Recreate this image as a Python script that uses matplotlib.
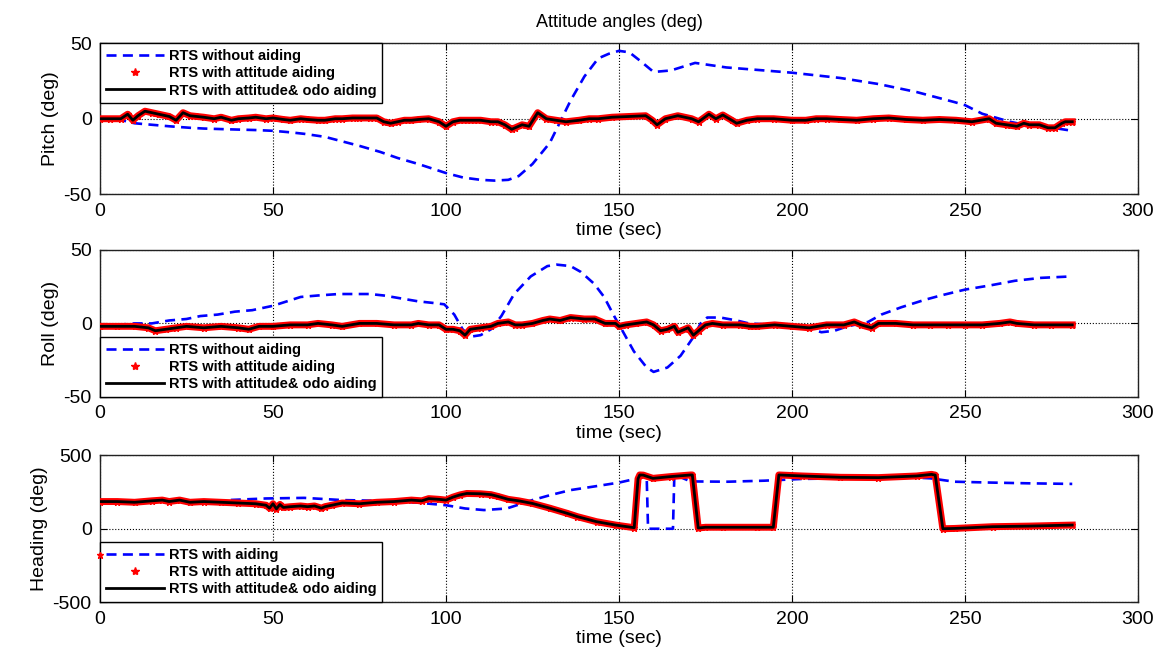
import numpy as np
import matplotlib
matplotlib.use("Agg")
import matplotlib.pyplot as plt
from matplotlib.lines import Line2D

plt.rcParams['font.family'] = ['Liberation Sans', 'DejaVu Sans']
plt.rcParams['axes.unicode_minus'] = False

# --- pitch (deg) ---------------------------------------------------------
pitch_free = [(0, 0), (5, 0), (8, -2), (10, -3), (15, -4), (20, -5), (26, -6), (30, -6.5),
              (37, -7), (45, -7.5), (50, -8), (55, -9), (59, -10), (65, -12), (70, -15),
              (75, -18), (81, -22), (86, -26), (92, -30), (96, -33), (100, -36), (105, -39),
              (110, -40.5), (114, -41), (118, -40.5), (121, -38), (125, -30), (130, -16),
              (133, -2), (136, 12), (140, 28), (144, 40), (147, 43), (150, 45), (153, 44),
              (156, 38.6), (160, 31), (165, 32), (172, 37), (181, 34), (192, 32), (200, 30.5),
              (214, 27), (225, 23), (236, 17.7), (247, 11), (250, 9), (255, 3.3), (263, -2),
              (268, -4.4), (274, -5.5), (281, -8)]
pitch_odo = [(0, 0), (3, 0), (6, 0), (8, 3), (9.5, -1), (11, 2), (13, 5), (15, 4), (17, 3),
             (20, 1.5), (22, -1), (24, 4), (26, 2), (28, 1.5), (30, 1), (33, 0), (35, 1),
             (38, -1), (40, 0), (43, 0.5), (45, 1), (48, 0), (50, 0.5), (53, -0.5), (55, -1),
             (58, 0), (60, -0.5), (63, -1), (65, -1), (68, 0), (70, 0), (73, 0.5), (75, 0.5),
             (78, 0.5), (80, 0.5), (82, -2), (84, -3), (86, -2), (88, -1), (90, -1), (92, -0.5),
             (95, 0), (98, -2), (100, -5), (102, -2), (104, -1), (106, -1), (108, -1), (110, -1),
             (113, -2), (115, -2), (117, -4), (119, -7), (120, -6), (122, -4), (124, -5),
             (126.5, 4), (129, 0), (131.8, -1), (134.7, -2), (138.5, -1), (141.4, 0), (144, 0),
             (148, 1), (153, 1.5), (157.7, 2), (159.6, -1), (161, -4), (163.4, 0), (167, 2),
             (171, 0), (173, -2), (176, 3), (178, 0), (180, 2.5), (182.6, -1), (184, -3),
             (187, -1), (190, 0), (194.7, 0), (200, -1), (204, -1), (207, 0), (210, 0),
             (214, -0.5), (218.7, -1), (223.5, 0), (228, 0.5), (233, -0.5), (237.8, -1),
             (242.6, -0.5), (247.4, -1), (252, -2), (257, 0), (259, -3), (262, -4), (265, -5),
             (267, -3), (268.6, -4), (271.5, -4), (274, -6), (276, -6), (278, -3), (279, -2),
             (281, -2)]
pitch_att = pitch_odo  # red band sits right under the black curve

# --- roll (deg) ----------------------------------------------------------
roll_free = [(0, -2), (5, -1), (10, 0), (15, 0), (20, 2), (25, 3), (29, 5), (34, 6), (39, 8),
             (44, 9), (50, 12), (54, 15), (58, 18), (63, 19), (69, 20), (75, 20), (78, 20),
             (82, 19), (87, 17), (92, 15), (96, 14), (99.5, 13), (102.4, 6), (104.8, -4),
             (107.2, -9), (110, -8), (113, -4), (116, 5), (119.7, 20), (124.5, 32), (129.3, 39),
             (132, 40), (136, 39), (139, 35), (142.8, 27), (145.7, 18), (148.6, 5), (151, -5),
             (154.3, -19), (158, -30), (160, -33), (164, -30), (167.8, -22), (171.6, -9),
             (173.6, 0), (175.5, 4), (179.3, 4), (184, 2), (187.5, 0), (195, -1), (204.6, -3),
             (208.5, -6), (212.3, -5), (216, -2), (222, 1), (225.8, 6), (231.6, 11),
             (238.3, 16), (243, 19), (250, 23), (257.6, 26), (264.4, 29), (272, 31), (281, 32)]
roll_odo = [(0, -2), (5, -2), (10, -2), (14, -3), (16, -5), (19, -4), (22, -3), (25, -2),
            (30, -3), (35, -2), (40, -3), (43, -4), (46, -2), (50, -2), (55, -1), (60, -1),
            (63, 0), (67, -1), (70, -2), (75, 0), (80, 0), (85, -1), (90, -1), (92, 0), (95, -1),
            (98, -1), (100, -4), (102, -4), (104, -5), (105.5, -8), (107, -4), (110, -3),
            (113, -2), (115, 0), (118, 1), (120, -1), (122, -1), (125, 0), (128, 2), (130, 3),
            (133, 2), (136, 4), (140, 3), (143, 3), (146, 0), (149, 0), (150, -2), (152, -1),
            (155, 0), (158, 1), (160, -1), (162, -5), (164, -4), (166, -2), (167, -6), (169, -4),
            (170, -3), (171.5, -8), (173, -5), (175, -1), (177, 0), (180, -1), (185, -1),
            (188, -2), (190, -2), (195, -1), (200, -2), (205, -3), (210, -1), (215, -1),
            (218, 1), (220, -1), (223, -3), (225, 0), (230, 0), (235, -1), (240, -1), (245, -1),
            (250, -1), (255, -1), (260, 0), (263, 1), (265, 0), (270, -1), (275, -1), (281, -1)]
roll_att = roll_odo

# --- heading (deg) -------------------------------------------------------
heading_free = [(0, 185), (10, 182), (20, 188), (30, 185), (37, 195), (48, 206), (59, 210),
                (70, 195), (81, 190), (92, 177), (100, 160), (105.5, 138), (111, 127),
                (117.6, 138), (125, 195), (130, 228), (136, 263), (143.5, 290), (150, 314),
                (155.4, 343), (158, 358), (158.4, 0), (165.6, 0), (166, 368), (170.7, 322),
                (181.5, 320), (192, 327), (203, 339), (214, 343), (225, 348), (236, 348),
                (240, 343), (247, 320), (257.7, 314), (268.6, 309), (281, 305)]
heading_odo = [(0, 185), (5, 185), (10, 180), (15, 190), (18, 195), (20, 185), (23, 195),
               (26, 180), (30, 185), (35, 180), (40, 175), (45, 170), (48, 160), (49, 140),
               (50, 170), (51, 135), (52, 165), (53, 145), (55, 150), (58, 155), (60, 150),
               (62, 155), (64, 140), (65, 150), (67, 160), (70, 175), (75, 170), (80, 180),
               (85, 185), (90, 195), (93, 190), (95, 205), (98, 200), (100, 195), (102, 215),
               (104, 230), (106, 240), (110, 238), (113, 232), (115, 220), (118, 200),
               (121, 190), (125, 172), (130, 140), (135, 105), (138, 82), (143.5, 48),
               (149, 25), (154.4, 7), (155.5, 340), (156, 366), (157, 365), (159.8, 343),
               (165, 355), (170.7, 366), (171.2, 366), (172.9, 5), (175, 10), (180, 10),
               (190, 10), (194.6, 10), (196.2, 366), (203, 359), (214, 350), (225, 348),
               (236, 359), (240.3, 370), (241.4, 365), (243.6, 0), (247, 2), (258, 14),
               (268.6, 18), (281, 25)]
heading_att_first = (0, -180)  # lone red sample at t=0
heading_att = heading_odo

panels = [
    ("Pitch (deg)", pitch_free, pitch_att, pitch_odo, None, "RTS without aiding", (-50, 50), "upper left"),
    ("Roll (deg)", roll_free, roll_att, roll_odo, None, "RTS without aiding", (-50, 50), "lower left"),
    ("Heading (deg)", heading_free, heading_att, heading_odo, heading_att_first, "RTS with aiding", (-500, 500), "lower left"),
]

BLUE_DASH = (3.8, 2.4)

fig = plt.figure(figsize=(11.75, 6.56), dpi=100)
boxes = [(0.0851, 0.704, 0.8834, 0.230),
         (0.0851, 0.395, 0.8834, 0.224),
         (0.0851, 0.082, 0.8834, 0.224)]

for box, (ylab, free, att, odo, extra, free_lab, ylim, loc) in zip(boxes, panels):
    ax = fig.add_axes(box)
    f = np.array(free)
    a = np.array(att)
    o = np.array(odo)
    ax.plot(f[:, 0], f[:, 1], color='#0000ff', ls='--', lw=1.9, dashes=BLUE_DASH, zorder=3)
    ax.plot(a[:, 0], a[:, 1], color='red', lw=5, marker='*', ms=5, zorder=4)
    if extra is not None:
        ax.plot([extra[0]], [extra[1]], color='red', marker='*', ms=5, ls='none',
                clip_on=False, zorder=11)
    ax.plot(o[:, 0], o[:, 1], color='black', lw=2, zorder=5)

    ax.set_xlim(0, 300)
    ax.set_ylim(*ylim)
    ax.set_xticks(np.arange(0, 301, 50))
    ax.set_yticks([ylim[0], 0, ylim[1]])
    ax.tick_params(direction='in', top=True, right=True, length=5, width=0.8,
                   labelsize=14, pad=6)
    ax.grid(True, ls=':', color='black', lw=0.8, zorder=0)
    for s in ax.spines.values():
        s.set_linewidth(1.0)
        s.set_color('#222222')
    ax.set_xlabel("time (sec)", fontsize=14, labelpad=2)
    ax.set_ylabel(ylab, fontsize=14, labelpad=3)

    handles = [Line2D([], [], color='#0000ff', ls='--', lw=1.9, dashes=BLUE_DASH),
               Line2D([], [], color='red', ls='none', marker='*', ms=6),
               Line2D([], [], color='black', lw=2)]
    labels = [free_lab, "RTS with attitude aiding", "RTS with attitude& odo aiding"]
    leg = ax.legend(handles, labels, loc=loc, borderaxespad=0, fancybox=False,
                    framealpha=1, edgecolor='black', prop={'weight': 'bold', 'size': 10.5},
                    handlelength=4.0, handletextpad=0.3, borderpad=0.4, labelspacing=0.22)
    leg.get_frame().set_linewidth(1.0)
    leg.set_zorder(10)

    if ylab.startswith("Pitch"):
        ax.set_title("Attitude angles (deg)", fontsize=13, pad=12)

fig.savefig("out.png", dpi=100)
